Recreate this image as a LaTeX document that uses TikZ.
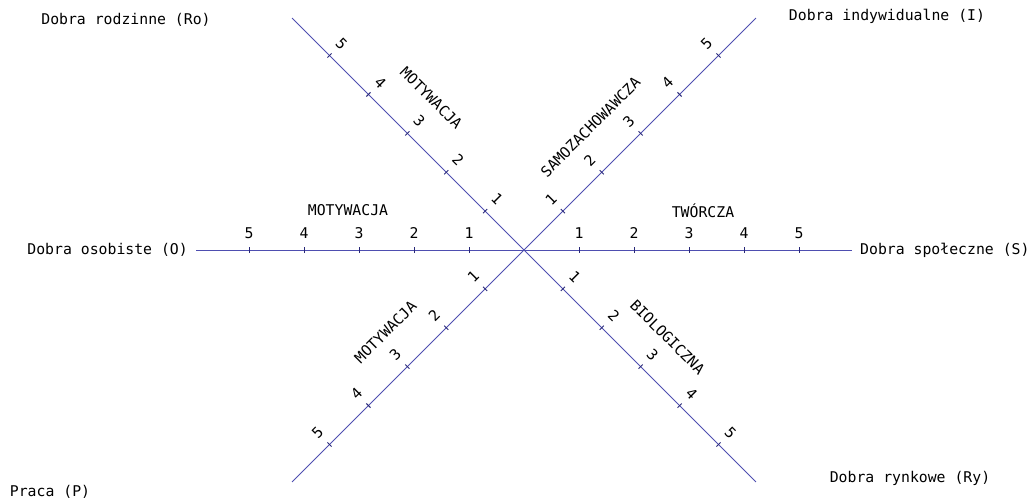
\documentclass[tikz,border=0pt]{standalone}
\usepackage{fontspec}
\setmainfont{DejaVu Sans Mono}
\usetikzlibrary{positioning,calc}
\definecolor{axisblue}{RGB}{78,78,176}
\definecolor{tickblue}{RGB}{40,40,120}
\tikzset{
  axisline/.style={draw=axisblue,line width=0.9pt},
  tickmark/.style={draw=tickblue,line width=0.9pt},
  txt/.style={font=\fontsize{14.8}{16}\selectfont,inner sep=0pt},
  num/.style={txt},
  catlabel/.style={txt},
}

\begin{document}
\begin{tikzpicture}[x=1pt,y=1pt]
\useasboundingbox (-524,-251) rectangle (508,250);
\coordinate (c) at (0,0);

% Axes with ticks 1..5
\foreach \ang/\rot/\nm in {0/0/S,45/45/I,135/-45/Ro,180/0/O,225/45/P,315/-45/Ry}{
  \coordinate (end\nm) at (\ang:328);
  \draw[axisline] (c) -- (end\nm);
  \foreach \k in {1,...,5}{
    \coordinate (t\nm\k) at (\ang:55*\k);
    \draw[tickmark] ($(t\nm\k)+(\ang+90:3)$) -- ($(t\nm\k)+(\ang-90:3)$);
    \node[num,rotate=\rot] (n\nm\k) at ($(t\nm\k)+(\rot+90:17)$) {\k};
  }
}

% Category labels
\node[catlabel] (catO) at ($(c)+(180:176)+(90:40)$) {MOTYWACJA};
\node[catlabel] (catS) at ($(c)+(0:179)+(90:39)$) {TWÓRCZA};
\node[catlabel,rotate=-45] (catRo) at ($(c)+(135:173)+(45:42)$) {MOTYWACJA};
\node[catlabel,rotate=45] (catI) at ($(c)+(45:134)+(135:40)$) {SAMOZACHOWAWCZA};
\node[catlabel,rotate=45] (catP) at ($(c)+(225:156)+(135:40)$) {MOTYWACJA};
\node[catlabel,rotate=-45] (catRy) at ($(c)+(315:163)+(45:40)$) {BIOLOGICZNA};

% Axis end labels
\node[txt,left=8pt of endO] (labO) {Dobra osobiste (O)};
\node[txt,right=8pt of endS] (labS) {Dobra społeczne (S)};
\node[txt] (labRo) at (-398,230) {Dobra rodzinne (Ro)};
\node[txt] (labI) at (363,234) {Dobra indywidualne (I)};
\node[txt] (labRy) at (386,-228) {Dobra rynkowe (Ry)};
\node[txt] (labP) at (-474,-242) {Praca (P)};
\end{tikzpicture}
\end{document}
